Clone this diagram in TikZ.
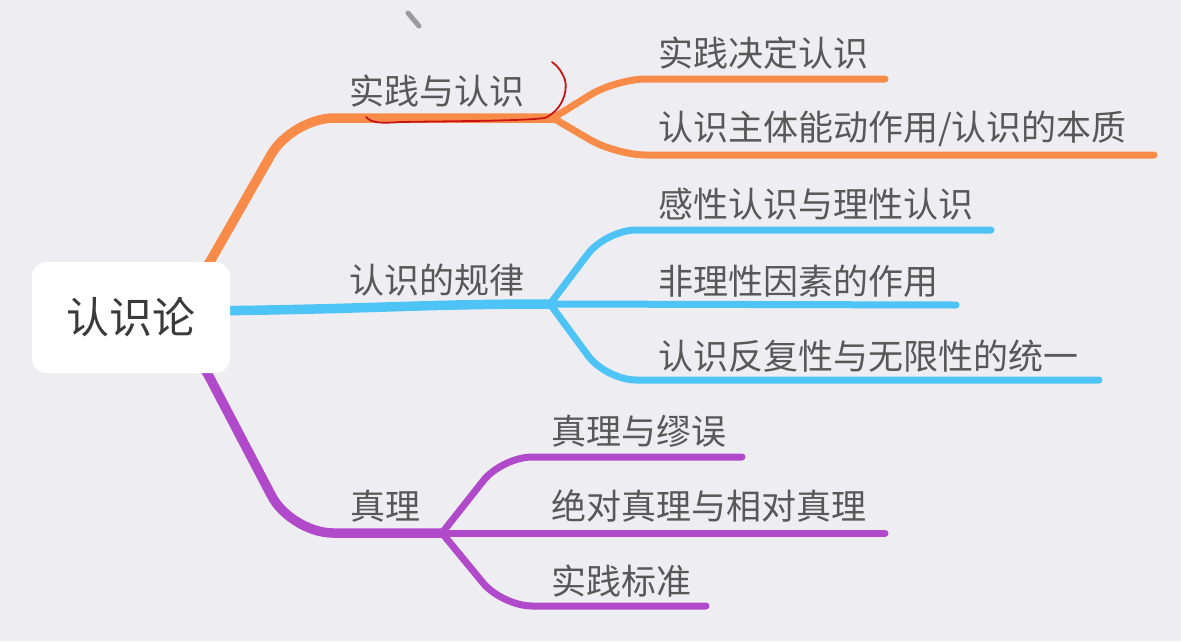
\documentclass[tikz,border=0pt]{standalone}
\usepackage{fontspec}
\setmainfont{Noto Sans CJK SC}
\definecolor{bgcol}{HTML}{EEEEF2}
\definecolor{orgcol}{HTML}{F98B48}
\definecolor{blucol}{HTML}{4EC3F5}
\definecolor{purcol}{HTML}{B04ACA}
\definecolor{txtcol}{HTML}{585858}
\definecolor{roottxt}{HTML}{3A3A3A}
\definecolor{inkred}{HTML}{C81414}
\definecolor{pengray}{HTML}{9A9AA0}
\pgfdeclarelayer{bglayer}
\pgfdeclarelayer{linelayer}
\pgfsetlayers{bglayer,linelayer,main}
\begin{document}
\begin{tikzpicture}[x=1pt,y=-1pt,
  branch/.style={line width=9.5pt, line cap=round, rounded corners=42pt},
  twig/.style={line width=7pt, line cap=round, rounded corners=30pt},
  lbl/.style={anchor=west, inner sep=0pt, text=txtcol, font=\fontsize{35}{35}\selectfont},
  rootbox/.style={fill=white, rounded corners=15pt, minimum width=198pt, minimum height=111pt,
    inner sep=0pt, text=roottxt, font=\fontsize{43}{43}\selectfont}]
\begin{pgfonlayer}{bglayer}
\fill[bgcol] (0,0) rectangle (1181,641);
\end{pgfonlayer}
\useasboundingbox (0,0) rectangle (1181,641);

% root
\node[rootbox] (root) at (131,317.5) {认识论};

% first level labels
\node[lbl] (l1) at (349,91) {实践与认识};
\node[lbl] (l2) at (349,280) {认识的规律};
\node[lbl] (l3) at (350,506) {真理};

% second level labels
\node[lbl] (c11) at (658,53) {实践决定认识};
\node[lbl] (c12) at (658,129) {认识主体能动作用/认识的本质};
\node[lbl] (c21) at (658,204) {感性认识与理性认识};
\node[lbl] (c22) at (658,281) {非理性因素的作用};
\node[lbl] (c23) at (658,356) {认识反复性与无限性的统一};
\node[lbl] (c31) at (551,431) {真理与缪误};
\node[lbl] (c32) at (551,506) {绝对真理与相对真理};
\node[lbl] (c33) at (551,581) {实践标准};

% fork points and line ends
\coordinate (fo) at (553,118);
\coordinate (fb) at (550,304);
\coordinate (fp) at (442,533);
\coordinate (e11) at (885,79);
\coordinate (e12) at (1154,155);
\coordinate (e21) at (991,230);
\coordinate (e22) at (956,305);
\coordinate (e23) at (1099,380);
\coordinate (e31) at (742,457);
\coordinate (e32) at (885,533);
\coordinate (e33) at (706,606);

\begin{pgfonlayer}{linelayer}
% main branches
\draw[branch, orgcol] (root.center) -- (191,295) -- (292,118) -- (fo);
\draw[branch, blucol, rounded corners=0pt] (root.center) -- (200,311) .. controls (380,309) and (420,304) .. (fb);
\draw[branch, purcol] (root.center) -- (190,340) -- (291,533) -- (fp);
% orange twigs
\draw[twig, orgcol] (fo) -- (616,79) -- (e11);
\draw[twig, orgcol] (fo) -- (616,155) -- (e12);
% blue twigs
\draw[twig, blucol] (fb) -- (606,230) -- (e21);
\draw[twig, blucol] (fb) -- (e22);
\draw[twig, blucol] (fb) -- (606,380) -- (e23);
% purple twigs
\draw[twig, purcol] (fp) -- (502,457) -- (e31);
\draw[twig, purcol] (fp) -- (e32);
\draw[twig, purcol] (fp) -- (502,606) -- (e33);
\end{pgfonlayer}

% hand-drawn red annotation
\draw[inkred, line width=1.8pt, line cap=round]
  (366,117) .. controls (372,124) and (385,123) .. (400,122)
  .. controls (460,121) and (520,121) .. (545,118)
  .. controls (562,110) and (568,92) .. (565,80)
  .. controls (562,72) and (558,66) .. (552,62);
% pen mark
\draw[pengray, line width=5pt, line cap=round] (408,13) -- (419,26);
\end{tikzpicture}
\end{document}
